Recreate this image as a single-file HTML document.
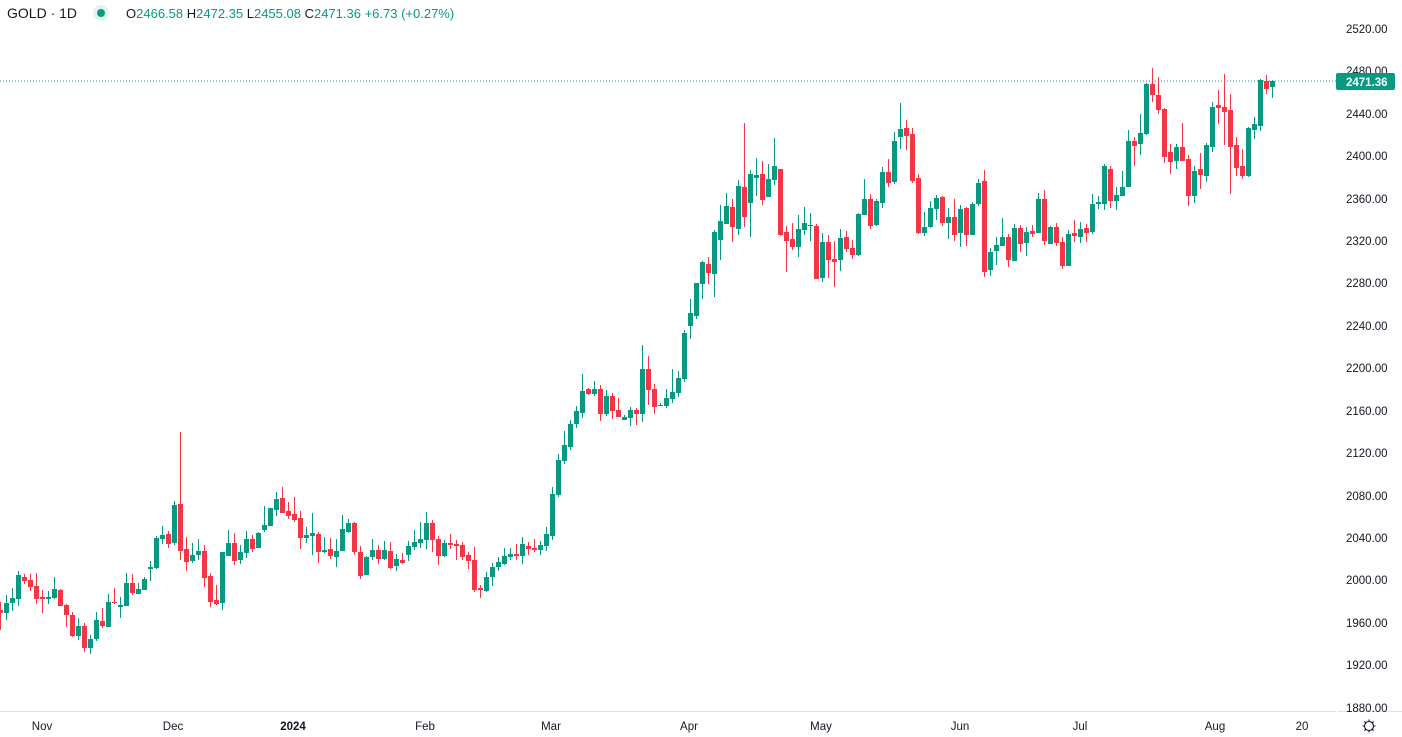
<!DOCTYPE html>
<html><head><meta charset="utf-8">
<style>
html,body{margin:0;padding:0;background:#fff;width:1402px;height:737px;overflow:hidden;font-family:"Liberation Sans",sans-serif;}
svg{position:absolute;left:0;top:0;}
</style></head><body>
<svg id="c" width="1402" height="737" xmlns="http://www.w3.org/2000/svg">
<line x1="0" y1="711.5" x2="1336" y2="711.5" stroke="#e0e3eb" stroke-width="1"/>
<line x1="1338" y1="711.5" x2="1402" y2="711.5" stroke="#e0e3eb" stroke-width="1"/>
<line x1="0" y1="81" x2="1336" y2="81" stroke="#089981" stroke-width="1" stroke-dasharray="1,2"/>
<g id="candles"></g>
<g font-size="11.5" fill="#131722" font-family="Liberation Sans,sans-serif">
<text x="1346" y="33">2520.00</text>
<text x="1346" y="118">2440.00</text>
<text x="1346" y="160">2400.00</text>
<text x="1346" y="203">2360.00</text>
<text x="1346" y="245">2320.00</text>
<text x="1346" y="287">2280.00</text>
<text x="1346" y="330">2240.00</text>
<text x="1346" y="372">2200.00</text>
<text x="1346" y="415">2160.00</text>
<text x="1346" y="457">2120.00</text>
<text x="1346" y="500">2080.00</text>
<text x="1346" y="542">2040.00</text>
<text x="1346" y="584">2000.00</text>
<text x="1346" y="627">1960.00</text>
<text x="1346" y="669">1920.00</text>
<text x="1346" y="712">1880.00</text>
<text x="1346" y="75">2480.00</text>
</g>
<rect x="1336" y="73" width="59" height="17" rx="2" fill="#089981"/>
<text x="1346" y="86" font-size="11.5" font-weight="bold" fill="#fff">2471.36</text>
<g font-size="11.5" fill="#131722" text-anchor="middle">
<text x="42" y="730">Nov</text>
<text x="173" y="730">Dec</text>
<text x="293" y="730" font-weight="bold">2024</text>
<text x="425" y="730">Feb</text>
<text x="551" y="730">Mar</text>
<text x="689" y="730">Apr</text>
<text x="821" y="730">May</text>
<text x="960" y="730">Jun</text>
<text x="1080" y="730">Jul</text>
<text x="1215" y="730">Aug</text>
<text x="1302" y="730">20</text>
</g>
<g stroke="#131722" stroke-width="1.1" fill="none">
<circle cx="1369" cy="726" r="4.5"/>
<path d="M1369 719.5v2M1369 730.5v2M1362.5 726h2M1373.5 726h2M1364.4 721.4l1.4 1.4M1372.2 729.2l1.4 1.4M1364.4 730.6l1.4-1.4M1372.2 722.8l1.4-1.4"/>
</g>
<text x="7" y="18" font-size="14" fill="#131722">GOLD · 1D</text>
<circle cx="101" cy="13" r="8" fill="#dff3ef"/>
<circle cx="101" cy="13" r="4" fill="#089981"/>
<text x="126" y="18" font-size="13" fill="#089981"><tspan fill="#131722">O</tspan>2466.58 <tspan fill="#131722">H</tspan>2472.35 <tspan fill="#131722">L</tspan>2455.08 <tspan fill="#131722">C</tspan>2471.36 +6.73 (+0.27%)</text>
</svg>
<script>
var d="r,610,613,602,630;g,603,613,595,620;g,598,603,588,611;g,575,599,571,606;r,577,581,574,584;r,580,587,574,591;r,586,599,573,604;r,597,599,590,613;g,597,599,591,604;g,589,598,577,599;r,590,606,589,606;r,605,615,604,627;r,615,636,612,637;g,626,636,618,640;r,626,648,623,652;g,639,648,635,654;g,620,639,612,641;r,621,626,608,628;g,602,627,594,627;r,602,603,588,604;g,605,607,597,618;g,583,606,573,606;r,583,593,574,595;g,589,594,583,594;g,579,590,577,590;g,567,569,561,581;g,538,568,536,569;g,535,539,526,544;r,534,544,531,548;g,505,543,501,545;r,504,551,432,560;r,549,562,537,571;g,555,561,543,563;g,551,555,539,560;r,551,578,545,587;r,576,602,573,607;r,600,604,585,605;g,552,603,552,610;g,543,556,530,556;r,543,561,533,565;g,552,560,545,564;g,539,553,531,558;r,539,549,535,552;g,533,548,532,548;g,525,530,506,532;g,508,526,508,526;g,499,510,492,516;r,498,513,487,513;r,511,516,502,519;r,514,520,497,522;r,518,538,511,549;g,535,538,527,543;g,533,536,513,555;r,534,552,532,563;g,550,552,537,553;r,549,556,538,559;g,551,557,539,567;g,529,551,515,551;g,523,532,519,533;r,523,552,522,555;r,552,576,546,579;g,557,575,556,575;g,550,557,539,560;r,550,559,545,564;g,550,559,541,560;r,551,568,542,569;g,559,566,554,571;r,560,563,553,564;g,546,555,541,561;g,542,547,530,550;g,539,543,522,548;g,523,540,512,549;r,523,540,520,552;r,539,556,536,565;g,543,556,540,557;r,543,545,534,549;r,544,546,540,560;r,545,557,542,560;r,555,561,552,569;r,560,590,547,592;r,588,590,585,598;g,577,591,572,592;g,567,577,563,586;g,562,567,557,571;g,556,564,548,565;g,554,557,548,560;r,554,556,544,560;g,544,556,537,564;r,546,549,542,555;r,548,550,539,552;g,545,550,541,555;g,534,546,527,551;g,494,536,487,540;g,460,495,454,497;g,445,461,431,464;g,424,447,420,450;g,411,424,406,428;g,391,413,374,418;r,389,394,388,395;g,389,394,381,396;r,389,414,385,421;g,396,414,390,416;r,396,411,393,419;r,410,417,398,417;g,417,420,415,420;g,410,418,407,426;r,410,414,408,425;g,369,414,345,422;r,369,390,356,405;r,389,407,384,414;g,405,406,403,406;g,398,406,389,408;g,392,399,369,403;g,378,393,371,397;g,333,379,330,382;g,313,326,299,339;g,283,316,283,319;g,262,284,261,299;r,264,273,257,284;g,232,274,230,297;g,221,240,205,260;g,206,224,193,224;r,207,227,199,242;g,186,229,180,235;r,187,217,123,227;g,174,203,170,237;g,175,178,158,196;r,174,200,161,205;g,179,197,164,197;g,166,180,138,185;r,169,235,169,236;r,232,241,226,272;r,239,247,223,250;g,229,247,215,257;g,223,230,207,235;g,225,226,213,241;r,226,279,224,279;g,242,278,233,282;r,242,260,235,278;r,259,262,241,287;g,238,260,229,271;r,237,249,231,252;r,248,255,240,259;g,214,255,213,256;g,199,215,179,215;r,199,226,194,229;g,201,225,199,226;g,172,203,167,208;r,172,183,159,187;g,141,182,132,184;g,129,137,103,149;r,128,136,120,150;r,134,181,128,183;r,178,233,174,234;g,227,233,212,236;g,208,227,201,228;g,198,209,195,220;r,197,223,196,226;g,217,223,208,239;r,217,235,199,241;g,209,233,205,247;r,208,235,207,246;g,204,235,202,235;g,183,204,179,206;r,181,272,170,277;g,252,270,248,276;g,245,251,237,265;g,237,246,218,246;r,237,260,234,267;g,228,261,224,261;r,228,244,225,252;g,232,243,227,256;r,231,234,225,237;g,199,233,193,233;r,199,241,190,245;g,227,244,226,244;r,227,243,223,246;r,242,266,237,269;g,234,266,230,266;r,233,236,220,242;g,229,237,222,243;r,228,233,224,242;g,204,232,194,234;g,202,204,196,209;g,166,204,164,210;r,169,201,166,208;g,195,201,187,210;g,187,196,171,196;g,141,187,130,187;r,141,146,137,166;g,133,144,114,155;g,84,134,83,135;r,84,95,68,102;r,95,110,77,114;r,109,157,108,163;r,152,162,144,174;g,147,161,144,169;r,147,161,123,161;r,159,196,155,206;g,171,196,166,203;r,169,175,153,189;g,145,176,143,182;g,107,147,102,152;r,105,108,90,124;r,107,112,74,145;r,110,147,94,194;r,145,168,137,176;r,166,176,149,179;g,128,176,127,177;g,124,130,117,139;g,80,126,79,131;r,81,89,75,94;g,81,87,80,98";
var rows=d.split(";"),h="";
for(var i=0;i<rows.length;i++){var a=rows[i].split(","),c=a[0]=="g"?"#089981":"#F23645";
var bt=+a[1],bb=+a[2],wt=+a[3],wb=+a[4];if(bb-bt<1)bb=bt+1;
h+='<rect x="'+(6*i)+'" y="'+wt+'" width="1" height="'+(wb-wt)+'" fill="'+c+'"/>';
h+='<rect x="'+(6*i-2)+'" y="'+bt+'" width="5" height="'+(bb-bt)+'" fill="'+c+'"/>';}
document.getElementById("candles").innerHTML=h;
</script>
</body></html>
